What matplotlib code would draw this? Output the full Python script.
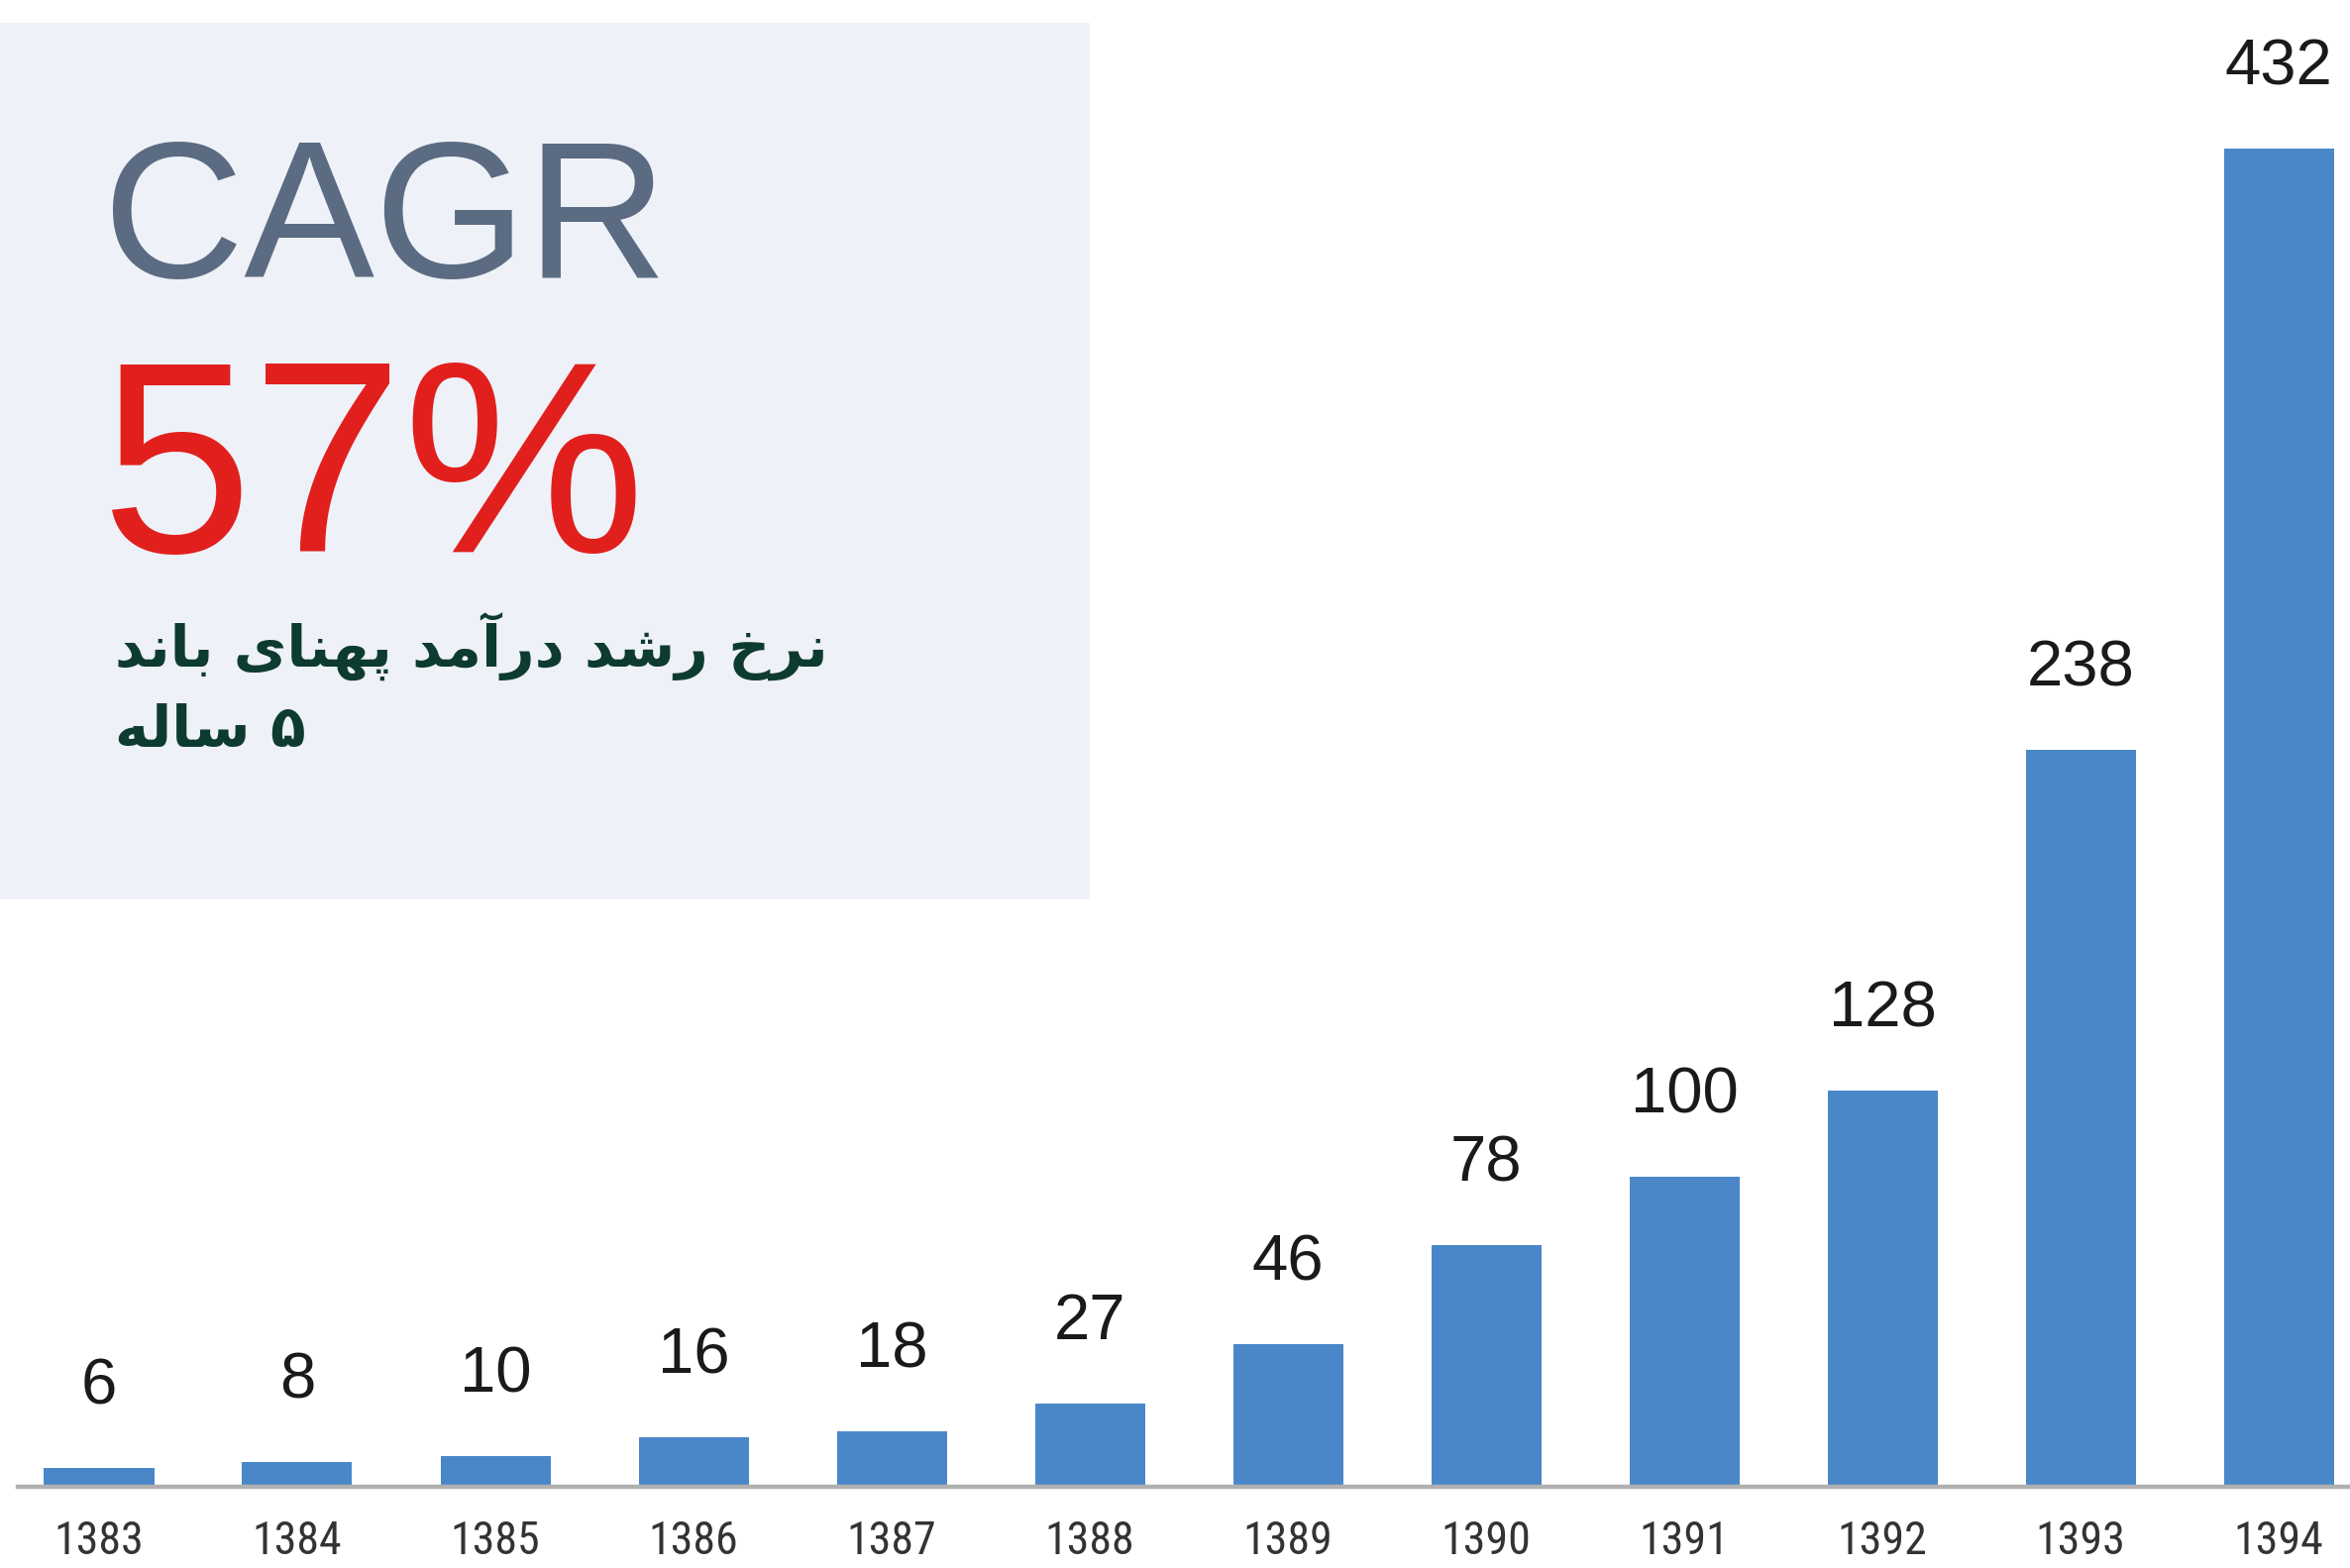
"""Broadband revenue bar chart, 1383-1394, with CAGR call-out box."""
import matplotlib
matplotlib.use('Agg')
import matplotlib.pyplot as plt
from matplotlib import font_manager
from matplotlib.patches import Rectangle

YEARS = ['1383', '1384', '1385', '1386', '1387', '1388',
         '1389', '1390', '1391', '1392', '1393', '1394']
REVENUE = [6, 8, 10, 16, 18, 27, 46, 78, 100, 128, 238, 432]

CAGR_TITLE = 'CAGR'
CAGR_VALUE = '57%'
CAGR_NOTE = ['نرخ رشد درآمد پهنای باند', '۵ ساله']

BAR = '#4a87c8'
BOX = '#eef1f8'
SLATE = '#5b6b82'
RED = '#e1201d'
GREEN = '#0e3b2f'
INK = '#1a1a1a'
TICK_INK = '#333333'
BASE = '#b0b0b0'

W, H = 2372, 1583

# minimal Arabic/Persian shaping: (isolated, final, initial, medial)
FORMS = {
    'ن': '\uFEE5\uFEE6\uFEE7\uFEE8', 'خ': '\uFEA5\uFEA6\uFEA7\uFEA8',
    'ش': '\uFEB5\uFEB6\uFEB7\uFEB8', 'م': '\uFEE1\uFEE2\uFEE3\uFEE4',
    'پ': '\uFB56\uFB57\uFB58\uFB59', 'ه': '\uFEE9\uFEEA\uFEEB\uFEEC',
    'ی': '\uFBFC\uFBFD\uFBFE\uFBFF', 'ب': '\uFE8F\uFE90\uFE91\uFE92',
    'س': '\uFEB1\uFEB2\uFEB3\uFEB4', 'ل': '\uFEDD\uFEDE\uFEDF\uFEE0',
    'ر': '\uFEAD\uFEAE', 'د': '\uFEA9\uFEAA',
    'آ': '\uFE81\uFE82', 'ا': '\uFE8D\uFE8E',
}


def shape(text):
    out = []
    for i, ch in enumerate(text):
        f = FORMS.get(ch)
        if f is None:
            out.append(ch)
            continue
        prev = text[i - 1] if i > 0 else ''
        nxt = text[i + 1] if i + 1 < len(text) else ''
        jp = prev in FORMS and len(FORMS[prev]) == 4
        jn = len(f) == 4 and nxt in FORMS
        if jp and jn:
            out.append(f[3])
        elif jp:
            out.append(f[1])
        elif jn:
            out.append(f[2])
        else:
            out.append(f[0])
    return ''.join(reversed(out))


def fx(px):
    return px / W


def fy(px):
    return 1 - px / H


# year labels are set in a condensed face in the original
names = {f.name for f in font_manager.fontManager.ttflist}
TICK_FONT, TICK_SIZE = 'Liberation Sans', 30
for cand in ('Roboto Condensed', 'Liberation Sans Narrow', 'Open Sans Condensed'):
    if cand in names:
        TICK_FONT, TICK_SIZE = cand, 33
        break

plt.rcParams['font.family'] = ['Liberation Sans', 'DejaVu Sans']

fig = plt.figure(figsize=(W / 100, H / 100), dpi=100)
fig.patch.set_facecolor('white')

fig.add_artist(Rectangle((fx(0), fy(908)), fx(1100), (908 - 23) / H,
                         transform=fig.transFigure, facecolor=BOX,
                         edgecolor='none', zorder=0))

ax = fig.add_axes([fx(18), 1 - 1501 / H, 1 - fx(18), 1501 / H])
ax.set_zorder(1)
ax.patch.set_alpha(0)

x = range(len(YEARS))
bars = ax.bar(x, REVENUE, width=0.555, color=BAR, zorder=2)
for b, v in zip(bars, REVENUE):
    ax.annotate(f'{v}', xy=(b.get_x() + b.get_width() / 2, v),
                xytext=(0, 37), textcoords='offset points',
                ha='center', va='bottom', fontsize=47, color=INK)

ax.axhline(0, color=BASE, linewidth=3.2, zorder=3, clip_on=False)
ax.set_xlim(-0.41, 11.36)
ax.set_ylim(0, 480)
ax.set_xticks(list(x))
ax.set_xticklabels(YEARS, fontsize=TICK_SIZE, color=TICK_INK, family=TICK_FONT)
ax.tick_params(axis='x', length=0, pad=24)
ax.set_yticks([])
for s in ax.spines.values():
    s.set_visible(False)

fig.text(fx(104), fy(280), CAGR_TITLE, fontsize=142, color=SLATE,
         ha='left', va='baseline', zorder=4)
fig.text(fx(102), fy(557), CAGR_VALUE, fontsize=198, color=RED,
         ha='left', va='baseline', zorder=4)
fig.text(fx(116), fy(652), shape(CAGR_NOTE[0]), fontsize=42, color=GREEN,
         fontweight='bold', family=['DejaVu Sans'], ha='left', va='center', zorder=4)
fig.text(fx(116), fy(738), shape(CAGR_NOTE[1]), fontsize=42, color=GREEN,
         fontweight='bold', family=['DejaVu Sans'], ha='left', va='center', zorder=4)

fig.savefig('out.png', dpi=100, facecolor='white')
